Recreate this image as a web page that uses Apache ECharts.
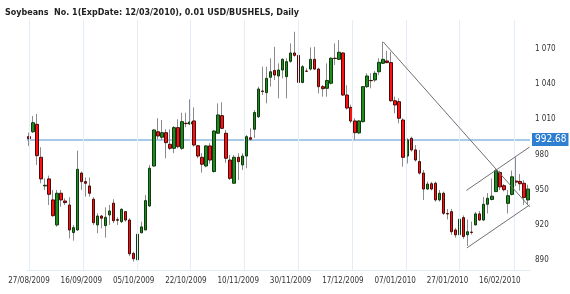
<!DOCTYPE html>
<html><head><meta charset="utf-8">
<script src="https://cdn.jsdelivr.net/npm/echarts@6/dist/echarts.min.js"></script>
<style>html,body{margin:0;padding:0;background:#fff}#c{width:570px;height:294px}</style>
</head><body><div id="c"></div><script>
const dates = ['27/08/2009','28/08/2009','31/08/2009',
'01/09/2009','02/09/2009','03/09/2009','04/09/2009','08/09/2009','09/09/2009','10/09/2009','11/09/2009','14/09/2009','15/09/2009','16/09/2009','17/09/2009','18/09/2009','21/09/2009','22/09/2009','23/09/2009','24/09/2009','25/09/2009','28/09/2009','29/09/2009','30/09/2009',
'01/10/2009','02/10/2009','05/10/2009','06/10/2009','07/10/2009','08/10/2009','09/10/2009','12/10/2009','13/10/2009','14/10/2009','15/10/2009','16/10/2009','19/10/2009','20/10/2009','21/10/2009','22/10/2009','23/10/2009','26/10/2009','27/10/2009','28/10/2009','29/10/2009','30/10/2009',
'02/11/2009','03/11/2009','04/11/2009','05/11/2009','06/11/2009','09/11/2009','10/11/2009','11/11/2009','12/11/2009','13/11/2009','16/11/2009','17/11/2009','18/11/2009','19/11/2009','20/11/2009','23/11/2009','24/11/2009','25/11/2009','27/11/2009','30/11/2009',
'01/12/2009','02/12/2009','03/12/2009','04/12/2009','07/12/2009','08/12/2009','09/12/2009','10/12/2009','11/12/2009','14/12/2009','15/12/2009','16/12/2009','17/12/2009','18/12/2009','21/12/2009','22/12/2009','23/12/2009','24/12/2009','28/12/2009','29/12/2009','30/12/2009','31/12/2009',
'04/01/2010','05/01/2010','06/01/2010','07/01/2010','08/01/2010','11/01/2010','12/01/2010','13/01/2010','14/01/2010','15/01/2010','19/01/2010','20/01/2010','21/01/2010','22/01/2010','25/01/2010','26/01/2010','27/01/2010','28/01/2010','29/01/2010',
'01/02/2010','02/02/2010','03/02/2010','04/02/2010','05/02/2010','08/02/2010','09/02/2010','10/02/2010','11/02/2010','12/02/2010','16/02/2010','17/02/2010','18/02/2010','19/02/2010','22/02/2010','23/02/2010','24/02/2010','25/02/2010'];

const openP = [995.2,999.4,1005.7,977.6,953.2,959.2,941.3,920.0,947.0,940.4,
937.0,913.5,915.7,964.2,956.9,953.2,941.9,920.0,927.6,919.4,
928.5,938.5,924.5,922.8,931.3,924.2,895.7,890.2,913.3,915.7,
936.2,970.2,999.4,994.7,998.6,988.7,985.3,1002.9,985.3,1006.6,
1006.0,1008.6,987.5,977.6,970.2,987.3,965.5,998.1,1013.1,998.1,
975.3,955.5,977.6,971.1,978.7,994.3,1001.5,1012.2,1034.1,1032.7,
1045.8,1051.6,1046.9,1052.0,1046.3,1059.4,1066.5,1064.5,1041.4,1051.1,
1052.8,1061.1,1052.8,1037.8,1036.4,1040.7,1062.0,1061.1,1066.5,1030.7,
1020.1,1008.6,998.4,1008.0,1037.8,1043.1,1043.5,1050.5,1057.7,1059.7,
1058.3,1025.8,1025.0,1009.4,978.7,993.8,983.9,974.0,964.2,950.6,
955.1,955.5,941.3,947.0,929.7,931.3,915.7,911.6,926.2,911.6,
913.9,920.0,929.4,924.2,937.6,941.7,948.4,964.6,953.4,938.4,
946.0,957.4,957.1,955.5,941.3];
const closeP = [993.5,1007.1,979.0,959.2,953.8,946.1,927.9,947.0,941.3,939.0,
915.7,917.7,967.4,956.9,955.5,947.0,921.9,927.6,925.7,926.5,
931.9,923.6,924.0,933.3,924.2,895.4,891.2,912.1,918.3,940.7,
968.3,1000.9,995.8,998.6,990.1,985.3,1002.9,986.7,1008.0,1006.3,
1007.7,988.1,978.7,971.7,987.3,975.3,1000.0,1013.7,1002.3,976.8,
959.7,977.6,973.9,978.7,995.2,993.0,1015.8,1035.8,1033.7,1044.9,
1050.5,1047.7,1052.0,1061.1,1059.1,1066.5,1064.5,1041.4,1054.8,1050.9,
1061.1,1052.8,1037.8,1036.1,1043.1,1062.0,1061.8,1067.1,1030.7,1019.6,
1008.6,998.6,1008.6,1037.8,1046.9,1042.9,1049.2,1058.5,1061.1,1058.3,
1025.8,1022.2,1010.9,977.6,992.4,983.9,975.3,964.2,950.6,954.8,
950.6,941.3,947.0,929.9,929.3,914.2,911.6,924.9,910.1,914.2,
913.6,929.4,924.2,937.6,942.7,944.5,966.2,952.4,950.0,944.9,
961.0,956.5,955.1,943.4,950.6];
const highP = [998.6,1012.8,1014.5,986.2,959.7,962.0,949.8,949.8,949.8,942.7,
943.6,920.0,983.3,965.5,960.5,960.5,943.6,929.9,928.5,935.0,
937.0,941.9,926.5,934.2,931.9,925.7,897.2,922.8,922.8,945.5,
971.1,1001.5,1010.9,1009.4,1001.5,1001.5,1004.3,1010.0,1015.6,1015.6,
1027.0,1020.2,988.1,981.1,988.1,989.6,1000.9,1023.6,1024.5,1000.9,
979.6,979.6,981.1,981.1,996.6,1002.3,1017.9,1037.8,1054.8,1054.8,
1062.0,1071.8,1057.7,1062.0,1062.0,1074.7,1084.6,1066.2,1056.3,1053.5,
1071.2,1071.8,1053.9,1039.2,1057.7,1062.8,1074.7,1077.5,1067.3,1039.0,
1022.4,1010.9,1009.4,1038.4,1049.2,1049.2,1051.1,1062.0,1076.0,1068.4,
1067.5,1029.3,1027.9,1010.9,993.8,995.2,988.1,983.9,966.8,956.9,
956.7,956.9,949.8,948.4,933.6,933.6,917.4,933.6,928.1,924.7,
922.9,931.1,931.9,943.8,947.2,959.6,967.7,966.3,954.8,949.8,
966.3,977.6,963.3,958.2,954.3];
const lowP = [987.3,998.3,971.1,955.5,949.8,937.0,927.0,918.5,935.5,937.0,
908.6,906.6,915.1,949.8,944.1,944.1,920.0,912.9,917.1,909.2,
920.0,921.5,920.0,921.5,922.8,893.4,888.7,888.7,912.9,915.7,
935.3,969.6,993.0,992.4,976.8,983.9,981.1,985.3,983.9,1003.2,
1005.1,986.7,976.8,964.6,969.1,972.3,964.6,998.1,1001.5,972.9,
958.3,955.5,958.3,966.8,968.3,991.8,994.1,1011.1,1030.7,1023.6,
1037.8,1043.5,1027.9,1044.9,1027.9,1058.1,1063.3,1040.7,1040.7,1050.2,
1051.6,1052.0,1032.1,1029.3,1029.3,1039.7,1056.3,1060.5,1029.9,1018.3,
1006.8,992.4,997.5,1007.3,1036.6,1036.4,1041.9,1047.7,1057.5,1057.7,
1025.0,1015.1,1006.6,969.6,972.3,982.4,974.0,962.9,941.3,949.8,
949.4,939.9,939.9,928.5,924.7,911.6,909.1,910.1,908.2,902.0,
911.9,919.6,923.4,923.4,929.8,940.9,948.2,949.8,948.6,929.8,
945.2,953.1,949.2,937.0,937.0];

const labelDates = ['27/08/2009','16/09/2009','05/10/2009','22/10/2009','10/11/2009','30/11/2009','17/12/2009','07/01/2010','27/01/2010','16/02/2010'];
const yTicks = [890,920,950,980,1010,1040,1070];
const refLevel = 992.69;
const refText = '992.68';
// vertical grid lines, in candle-index units
const gridIdx = [0.1,13.5,26.9,40.1,53.6,66.8,80.3,93.7,106.9,120.5];
// drawn trend lines: [candle index, price]
const trendDown = [[88,1076.0],[124.4,935.4]];
const channelLow = [[108.8,900.4],[124.4,937.0]];
const channelHigh = [[108.7,949.4],[124.4,986.4]];

const N = dates.length;
const wickData = dates.map((d,i)=>[openP[i],closeP[i],lowP[i],highP[i]]);
const bodyData = dates.map((d,i)=>[openP[i],closeP[i],Math.min(openP[i],closeP[i]),Math.max(openP[i],closeP[i])]);
const labelSet = new Set(labelDates);
const fmt = v => v >= 1000 ? Math.floor(v/1000) + ' ' + String(v % 1000).padStart(3,'0') : String(v);

const chart = echarts.init(document.getElementById('c'), null, {renderer:'canvas'});
chart.setOption({
  animation:false,
  backgroundColor:'#fff',
  title:{text:'Soybeans  No. 1(ExpDate: 12/03/2010), 0.01 USD/BUSHELS, Daily',left:0,top:4,
    textStyle:{fontFamily:'DejaVu Sans',fontWeight:'bold',fontSize:8,color:'#222'}},
  grid:{left:27,right:40,top:20,bottom:24},
  xAxis:[{type:'category',data:dates,boundaryGap:true,
      axisLine:{show:true,lineStyle:{color:'#e2ecf6'}},axisTick:{show:false},
      axisLabel:{interval:(i,v)=>labelSet.has(v),fontFamily:'DejaVu Sans Condensed',fontSize:8,color:'#333',margin:7},
      splitLine:{show:false}},
    {type:'value',min:-0.5,max:N-0.5,show:false}],
  yAxis:{type:'value',position:'right',min:881.6,max:1094.6,
    axisLine:{show:true,lineStyle:{color:'#d6e4f2'}},
    axisTick:{show:false},
    axisLabel:{customValues:yTicks,formatter:fmt,fontFamily:'DejaVu Sans Condensed',fontSize:8,color:'#333',margin:5},
    splitLine:{show:false}},
  series:[
    {type:'line',xAxisIndex:1,data:[],silent:true,z:1,
     markLine:{silent:true,symbol:'none',label:{show:false},lineStyle:{color:'#e3edf7',width:1,type:'solid'},
       data:gridIdx.map(v=>({xAxis:v}))}},
    {type:'candlestick',data:wickData,barWidth:1,z:3,
     itemStyle:{color:'#8c8c8c',color0:'#8c8c8c',borderColor:'#8c8c8c',borderColor0:'#8c8c8c',borderWidth:1},
     markLine:{silent:true,symbol:'none',z:2,lineStyle:{color:'#a9c9ea',width:2,type:'solid'},
       label:{show:true,position:'end',formatter:refText,color:'#fff',backgroundColor:'#2f7fd1',padding:[2,2,1,3],
         fontFamily:'DejaVu Sans Condensed',fontSize:10,distance:2},
       data:[{yAxis:refLevel}]}},
    {type:'candlestick',data:bodyData,barWidth:3,z:4,
     itemStyle:{color:'#1f8a1f',color0:'#ff1010',borderColor:'#0e3a0e',borderColor0:'#4a0a0a',borderWidth:1}},
    {type:'line',xAxisIndex:1,data:trendDown,symbol:'none',z:5,lineStyle:{color:'#707070',width:1}},
    {type:'line',xAxisIndex:1,data:channelLow,symbol:'none',z:5,lineStyle:{color:'#707070',width:1}},
    {type:'line',xAxisIndex:1,data:channelHigh,symbol:'none',z:5,lineStyle:{color:'#707070',width:1}}
  ]
});
</script></body></html>
